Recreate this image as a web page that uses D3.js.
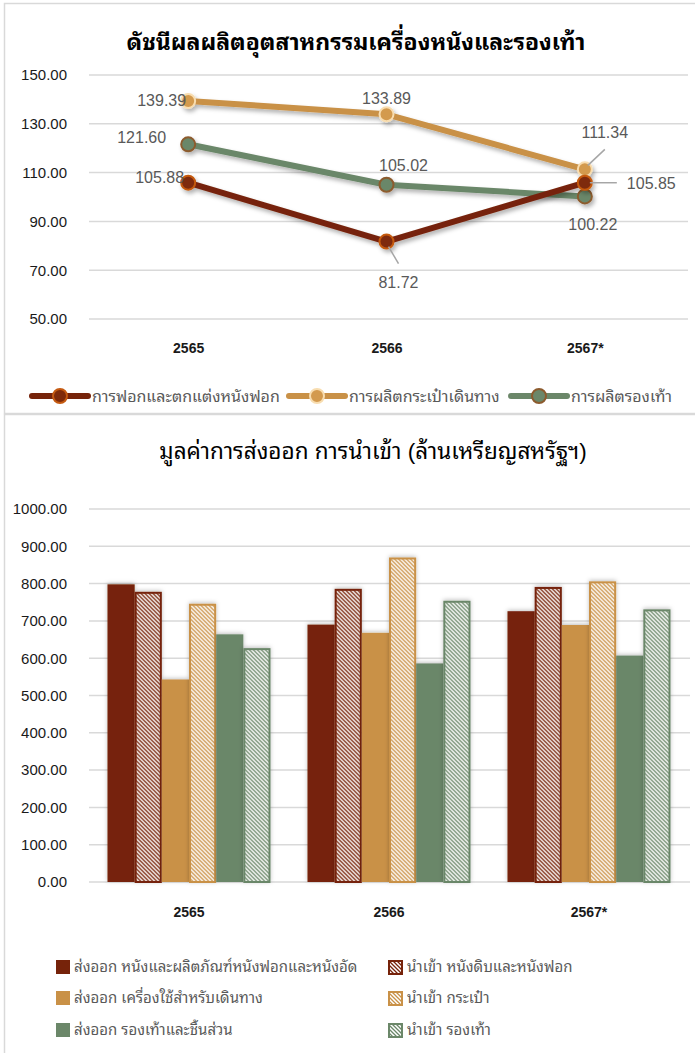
<!DOCTYPE html>
<html><head><meta charset="utf-8">
<script src="https://cdn.jsdelivr.net/npm/d3@7"></script>
<style>
html,body{margin:0;padding:0;background:#fff;}
svg{display:block;font-family:"Liberation Sans","Noto Sans Thai Looped","Loma","Garuda","Noto Sans Thai","Noto Sans",sans-serif;}
</style></head>
<body>
<script>
// ---------- data ----------
const years = ["2565", "2566", "2567*"];

const lineTitle = "ดัชนีผลผลิตอุตสาหกรรมเครื่องหนังและรองเท้า";
const lineNames = ["การฟอกและตกแต่งหนังฟอก", "การผลิตกระเป๋าเดินทาง", "การผลิตรองเท้า"];
const tanningIndex = [105.88, 81.72, 105.85];
const bagIndex = [139.39, 133.89, 111.34];
const footwearIndex = [121.60, 105.02, 100.22];
const indexTicks = [50, 70, 90, 110, 130, 150];

const barTitle = "มูลค่าการส่งออก การนำเข้า (ล้านเหรียญสหรัฐฯ)";
const barNames = [
  "ส่งออก หนังและผลิตภัณฑ์หนังฟอกและหนังอัด",
  "นำเข้า หนังดิบและหนังฟอก",
  "ส่งออก เครื่องใช้สำหรับเดินทาง",
  "นำเข้า กระเป๋า",
  "ส่งออก รองเท้าและชิ้นส่วน",
  "นำเข้า รองเท้า"
];
const exportLeather = [798, 690, 726];
const importHides = [778, 786, 791];
const exportTravel = [543, 668, 689];
const importBags = [746, 870, 806];
const exportFootwear = [664, 586, 607];
const importFootwear = [627, 754, 731];
const valueTicks = [0, 100, 200, 300, 400, 500, 600, 700, 800, 900, 1000];

// ---------- styles ----------
const cBrown = "#76230a", cTan = "#c99147", cGreen = "#6b8769";
const grid = "#d9d9d9", labelGray = "#595959";

const W = 695, H = 1053;
const svg = d3.select("body").append("svg").attr("width", W).attr("height", H);
const defs = svg.append("defs");

const sh = defs.append("filter").attr("id", "shadow").attr("x", "-20%").attr("y", "-20%").attr("width", "140%").attr("height", "160%");
sh.append("feDropShadow").attr("dx", 2).attr("dy", 3).attr("stdDeviation", 2).attr("flood-color", "#000").attr("flood-opacity", 0.3);
const bsh = defs.append("filter").attr("id", "bshadow").attr("x", "-30%").attr("y", "-10%").attr("width", "160%").attr("height", "120%");
bsh.append("feDropShadow").attr("dx", 0).attr("dy", -1).attr("stdDeviation", 2).attr("flood-color", "#000").attr("flood-opacity", 0.25);

function hatch(id, color) {
  const p = defs.append("pattern").attr("id", id).attr("patternUnits", "userSpaceOnUse")
    .attr("width", 4).attr("height", 4);
  p.append("rect").attr("width", 4).attr("height", 4).attr("fill", "#fff");
  p.append("path").attr("d", "M-1,-1L5,5M-1,3L1,5M3,-1L5,1")
    .attr("stroke", color).attr("stroke-width", 1.3);
}
hatch("hBrown", cBrown); hatch("hTan", cTan); hatch("hGreen", cGreen);

// frames
svg.append("rect").attr("x", 4.5).attr("y", 3.5).attr("width", 692).attr("height", 410)
  .attr("fill", "none").attr("stroke", grid).attr("stroke-width", 1.5);
svg.append("rect").attr("x", 4.5).attr("y", 414.5).attr("width", 692).attr("height", 700)
  .attr("fill", "none").attr("stroke", grid).attr("stroke-width", 1.5);

// ================= LINE CHART =================
const x1 = d3.scalePoint().domain(years).range([89, 684]).padding(0.5);
const y1 = d3.scaleLinear().domain([50, 150]).range([319, 75]);

svg.append("text").attr("x", 356).attr("y", 50).attr("text-anchor", "middle")
  .attr("font-size", 23).attr("font-weight", "bold").attr("fill", "#000").text(lineTitle);

const g1 = svg.append("g");
g1.append("g").selectAll("line").data(indexTicks).join("line")
  .attr("x1", 89).attr("x2", 688).attr("y1", d => y1(d)).attr("y2", d => y1(d))
  .attr("stroke", grid).attr("stroke-width", 1.5);

const ay1 = d3.axisLeft(y1).tickValues(indexTicks).tickFormat(d3.format(".2f")).tickSize(0).tickPadding(0);
g1.append("g").attr("transform", "translate(67,0)").call(ay1)
  .call(g => g.select(".domain").remove())
  .selectAll("text").attr("font-size", 15).attr("fill", "#1a1a1a").attr("font-family", "Liberation Sans");

const ax1 = d3.axisBottom(x1).tickSize(0).tickPadding(0);
g1.append("g").attr("transform", "translate(0,343)").call(ax1)
  .call(g => g.select(".domain").remove())
  .selectAll("text").attr("font-size", 14).attr("font-weight", "bold").attr("fill", "#1a1a1a").attr("font-family", "Liberation Sans");

const lineSeries = [
  { vals: tanningIndex, color: cBrown, mfill: "#7e2a0a", mstroke: "#c55a11" },
  { vals: bagIndex, color: cTan, mfill: "#d39a4e", mstroke: "#f8ddb0" },
  { vals: footwearIndex, color: cGreen, mfill: "#6b8769", mstroke: "#8c5b2e" }
];
const drawOrder = [1, 2, 0];
const lineGen = d3.line().x((d, i) => x1(years[i])).y(d => y1(d));
drawOrder.forEach(k => {
  const s = lineSeries[k];
  const gg = g1.append("g").attr("filter", "url(#shadow)");
  gg.append("path").datum(s.vals).attr("d", lineGen).attr("fill", "none")
    .attr("stroke", s.color).attr("stroke-width", 6).attr("stroke-linejoin", "round");
  gg.selectAll("circle").data(s.vals).join("circle")
    .attr("cx", (d, i) => x1(years[i])).attr("cy", d => y1(d)).attr("r", 7)
    .attr("fill", s.mfill).attr("stroke", s.mstroke).attr("stroke-width", 2);
});

// data labels: [series, index, dx, dy, anchor, leader]
const labelLayout = [
  [0, 0, -4, -5, "end", null],
  [0, 1, 12, 41, "middle", [2, 5, 12, 22]],
  [0, 2, 42, 1, "start", [5, 0, 32, 0]],
  [1, 0, -2, 0, "end", null],
  [1, 1, 0, -16, "middle", null],
  [1, 2, 20, -37, "middle", [3, -4, 20, -20]],
  [2, 0, -22, -7, "end", null],
  [2, 1, 17, -19, "middle", null],
  [2, 2, 8, 28, "middle", null]
];
const fmt2 = d3.format(".2f");
labelLayout.forEach(([si, i, dx, dy, anchor, leader]) => {
  const v = lineSeries[si].vals[i];
  const px = x1(years[i]), py = y1(v);
  if (leader) {
    g1.append("line").attr("x1", px + leader[0]).attr("y1", py + leader[1])
      .attr("x2", px + leader[2]).attr("y2", py + leader[3])
      .attr("stroke", "#a6a6a6").attr("stroke-width", 1.5);
  }
  g1.append("text").attr("x", px + dx).attr("y", py + dy).attr("dy", "0.35em")
    .attr("text-anchor", anchor).attr("font-size", 16).attr("fill", labelGray)
    .attr("font-family", "Liberation Sans").text(fmt2(v));
});

// legend (line)
const lineLegendX = [32, 289, 511];
const lg1 = svg.append("g");
lineSeries.forEach((s, k) => {
  const lx = lineLegendX[k], ly = 396;
  lg1.append("line").attr("x1", lx).attr("x2", lx + 56).attr("y1", ly).attr("y2", ly)
    .attr("stroke", s.color).attr("stroke-width", 6).attr("stroke-linecap", "round");
  lg1.append("circle").attr("cx", lx + 28).attr("cy", ly).attr("r", 7)
    .attr("fill", s.mfill).attr("stroke", s.mstroke).attr("stroke-width", 2);
  lg1.append("text").attr("x", lx + 60).attr("y", ly).attr("dy", "0.35em")
    .attr("font-size", 16).attr("fill", labelGray).text(lineNames[k]);
});

// ================= BAR CHART =================
svg.append("text").attr("x", 373).attr("y", 459).attr("text-anchor", "middle")
  .attr("font-size", 22.5).attr("fill", "#000").text(barTitle);

const x0 = d3.scaleBand().domain(years).range([89, 689]).paddingInner(0.185).paddingOuter(0.0925);
const keys = d3.range(6);
const xs = d3.scaleBand().domain(keys).range([0, x0.bandwidth()]);
const y2 = d3.scaleLinear().domain([0, 1000]).range([882, 509]);

const g2 = svg.append("g");
g2.append("g").selectAll("line").data(valueTicks).join("line")
  .attr("x1", 89).attr("x2", 690).attr("y1", d => y2(d)).attr("y2", d => y2(d))
  .attr("stroke", grid).attr("stroke-width", 1.5);

const ay2 = d3.axisLeft(y2).tickValues(valueTicks).tickFormat(d3.format(".2f")).tickSize(0).tickPadding(0);
g2.append("g").attr("transform", "translate(67,0)").call(ay2)
  .call(g => g.select(".domain").remove())
  .selectAll("text").attr("font-size", 15).attr("fill", "#1a1a1a").attr("font-family", "Liberation Sans");

const ax2 = d3.axisBottom(x0).tickSize(0).tickPadding(0);
g2.append("g").attr("transform", "translate(0,907)").call(ax2)
  .call(g => g.select(".domain").remove())
  .selectAll("text").attr("font-size", 14).attr("font-weight", "bold").attr("fill", "#1a1a1a").attr("font-family", "Liberation Sans");

const barSeries = [
  { vals: exportLeather, fill: cBrown, stroke: "none" },
  { vals: importHides, fill: "url(#hBrown)", stroke: cBrown },
  { vals: exportTravel, fill: cTan, stroke: "none" },
  { vals: importBags, fill: "url(#hTan)", stroke: cTan },
  { vals: exportFootwear, fill: cGreen, stroke: "none" },
  { vals: importFootwear, fill: "url(#hGreen)", stroke: cGreen }
];
const groups = g2.append("g").selectAll("g").data(years).join("g")
  .attr("transform", d => `translate(${x0(d)},0)`);
groups.each(function (yr, i) {
  const gg = d3.select(this);
  barSeries.forEach((s, k) => {
    const hatched = s.stroke !== "none";
    const inset = hatched ? 1 : 0;
    gg.append("rect")
      .attr("x", xs(k) + inset).attr("width", xs.bandwidth() - 2 * inset)
      .attr("y", y2(s.vals[i]) + inset).attr("height", y2(0) - y2(s.vals[i]) - inset)
      .attr("fill", s.fill).attr("stroke", s.stroke).attr("stroke-width", hatched ? 2 : 0)
      .attr("filter", "url(#bshadow)");
  });
});

// legend (bars)
const lg2 = svg.append("g");
const legCols = [56, 388], legRows = [967, 998, 1030];
barSeries.forEach((s, k) => {
  const lx = legCols[k % 2], ly = legRows[Math.floor(k / 2)];
  const hatched = s.stroke !== "none";
  lg2.append("rect").attr("x", lx + (hatched ? 1 : 0)).attr("y", ly - 7 + (hatched ? 1 : 0))
    .attr("width", hatched ? 13 : 14).attr("height", hatched ? 13 : 14)
    .attr("fill", s.fill).attr("stroke", s.stroke).attr("stroke-width", hatched ? 2 : 0);
  lg2.append("text").attr("x", lx + (hatched ? 19 : 18)).attr("y", ly).attr("dy", "0.35em")
    .attr("font-size", 15).attr("fill", labelGray).text(barNames[k]);
});
</script>
</body></html>
